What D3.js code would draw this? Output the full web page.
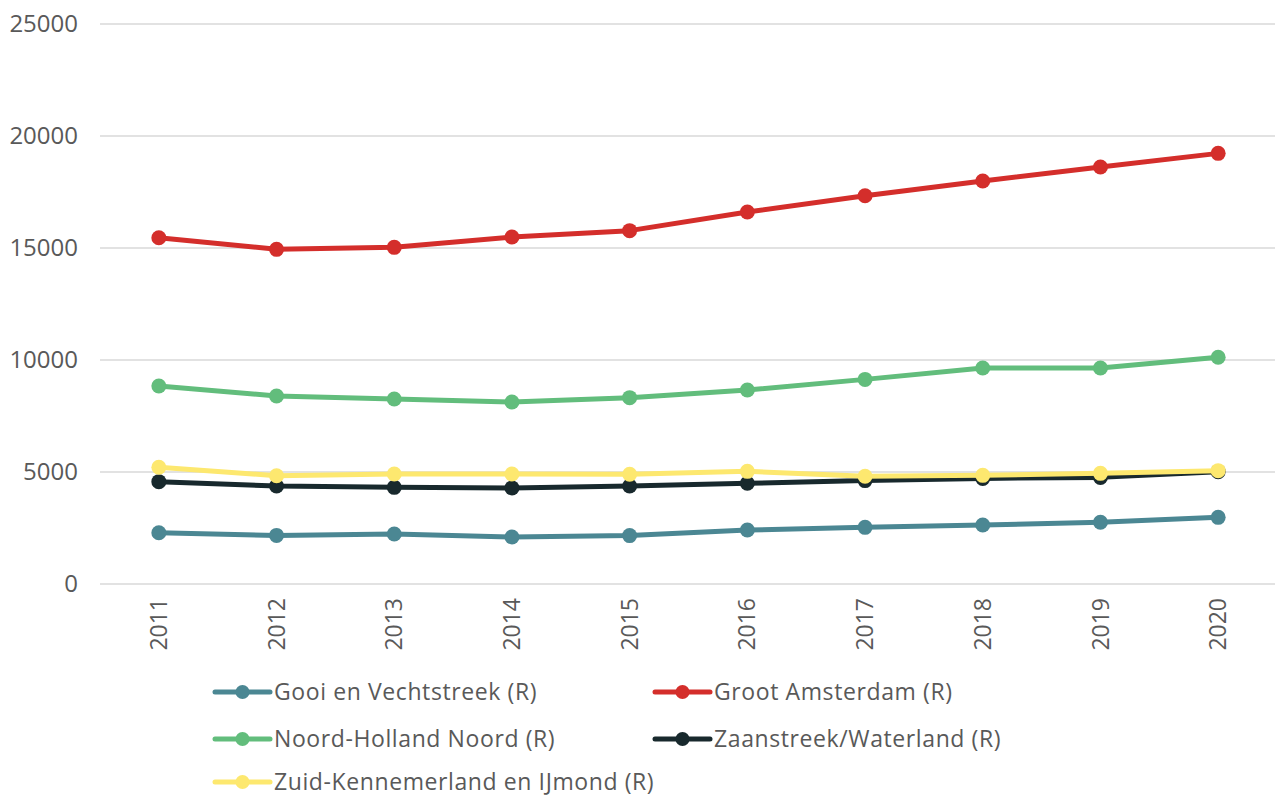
<!DOCTYPE html>
<html>
<head>
<meta charset="utf-8">
<script src="https://cdn.jsdelivr.net/npm/d3@7"></script>
<style>
 body { margin: 0; background: #fff; }
 text { font-family: "Open Sans", Lato, sans-serif; fill: #595959; }
</style>
</head>
<body>
<script>
const width = 1275;
const height = 797;

const years = ["2011", "2012", "2013", "2014", "2015", "2016", "2017", "2018", "2019", "2020"];
const yTicks = [0, 5000, 10000, 15000, 20000, 25000];

const regions = ["Gooi en Vechtstreek (R)", "Groot Amsterdam (R)", "Noord-Holland Noord (R)", "Zaanstreek/Waterland (R)", "Zuid-Kennemerland en IJmond (R)"];
const colors = ["#4b8793", "#d42e2b", "#62bd7c", "#18292d", "#fde86f"];

const gooi = [2290, 2170, 2230, 2100, 2160, 2410, 2530, 2635, 2755, 2975];
const grootAmsterdam = [15460, 14940, 15030, 15490, 15775, 16605, 17335, 17990, 18615, 19225];
const noordHolland = [8840, 8395, 8260, 8125, 8320, 8660, 9135, 9645, 9645, 10120];
const zaanstreek = [4570, 4375, 4315, 4290, 4375, 4495, 4615, 4715, 4760, 5015];
const zuidKennemerland = [5210, 4835, 4910, 4910, 4900, 5030, 4810, 4850, 4940, 5060];

const seriesValues = [gooi, grootAmsterdam, noordHolland, zaanstreek, zuidKennemerland];

const series = regions.map((name, i) => {
 return {
    name: name,
    color: colors[i],
    values: years.map((y, j) => ({ year: y, value: seriesValues[i][j] }))
 };
});

const svg = d3.select("body")
 .append("svg")
 .attr("width", width)
 .attr("height", height);

const xScale = d3.scalePoint()
 .domain(years)
 .range([100, 1277])
 .padding(0.5);

const yScale = d3.scaleLinear()
 .domain([0, 25000])
 .range([584, 24]);

// gridlines
svg.selectAll("line.grid")
 .data(yTicks)
 .enter()
 .append("line")
 .attr("class", "grid")
 .attr("x1", 100)
 .attr("x2", width)
 .attr("y1", d => yScale(d))
 .attr("y2", d => yScale(d))
 .attr("stroke", "#d9d9d9")
 .attr("stroke-width", 1.3);

// y labels
svg.selectAll("text.ylab")
 .data(yTicks)
 .enter()
 .append("text")
 .attr("class", "ylab")
 .attr("x", 78)
 .attr("y", d => yScale(d))
 .attr("dy", "0.35em")
 .attr("text-anchor", "end")
 .style("font-size", "24px")
 .text(d => d);

// x labels, rotated
svg.selectAll("text.xlab")
 .data(years)
 .enter()
 .append("text")
 .attr("class", "xlab")
 .attr("transform", d => `translate(${xScale(d)},598) rotate(-90)`)
 .attr("dy", "0.35em")
 .attr("text-anchor", "end")
 .style("font-size", "23px")
 .text(d => d);

const line = d3.line()
 .x(d => xScale(d.year))
 .y(d => yScale(d.value));

const groups = svg.selectAll("g.series")
 .data(series)
 .enter()
 .append("g")
 .attr("class", "series");

groups.append("path")
 .attr("d", d => line(d.values))
 .attr("fill", "none")
 .attr("stroke", d => d.color)
 .attr("stroke-width", 5)
 .attr("stroke-linejoin", "round");

groups.selectAll("circle")
 .data(d => d.values.map(v => ({ ...v, color: d.color })))
 .enter()
 .append("circle")
 .attr("cx", d => xScale(d.year))
 .attr("cy", d => yScale(d.value))
 .attr("r", 7.5)
 .attr("fill", d => d.color);

// legend
const legendPos = [[215, 692], [655, 692], [215, 739], [655, 739], [215, 782]];

const legend = svg.selectAll("g.legend")
 .data(series)
 .enter()
 .append("g")
 .attr("class", "legend")
 .attr("transform", (d, i) => `translate(${legendPos[i][0]},${legendPos[i][1]})`);

legend.append("line")
 .attr("x1", 0)
 .attr("x2", 55)
 .attr("stroke", d => d.color)
 .attr("stroke-width", 5)
 .attr("stroke-linecap", "round");

legend.append("circle")
 .attr("cx", 27.5)
 .attr("r", 7)
 .attr("fill", d => d.color);

legend.append("text")
 .attr("x", 59)
 .attr("dy", "0.35em")
 .style("font-size", "23px")
 .style("letter-spacing", "0.6px")
 .text(d => d.name);
</script>
</body>
</html>
